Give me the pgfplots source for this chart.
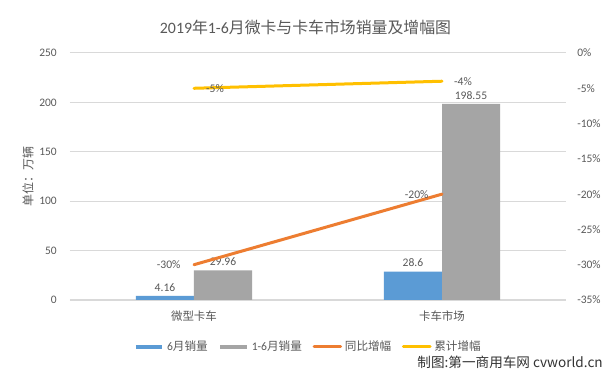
\documentclass[border=0pt]{standalone}
\usepackage{pgfplots}
\pgfplotsset{compat=1.18}
\usepackage{fontspec}
\setmainfont{Carlito}
\newfontfamily\cjk{Noto Sans CJK SC}
\definecolor{cblue}{HTML}{5B9BD5}
\definecolor{cgray}{HTML}{A5A5A5}
\definecolor{corange}{HTML}{ED7D31}
\definecolor{cyellow}{HTML}{FFC000}
\definecolor{ctext}{HTML}{595959}
\definecolor{cgrid}{HTML}{D9D9D9}
\begin{document}
\begin{tikzpicture}
\path[use as bounding box, fill=white] (0pt,0pt) rectangle (458.25pt,288pt);
\node[text=ctext, font=\fontsize{11.9}{14}\selectfont] at (229.1pt,267.75pt) {2019{\cjk 年}1-6{\cjk 月微卡与卡车市场销量及增幅图}};
\node[text=ctext, rotate=90, font=\cjk\fontsize{9}{11}\selectfont] at (21pt,155.25pt) {单位：万辆};
\node[text=black!80, font=\cjk\fontsize{10.2}{12}\selectfont, anchor=east, inner sep=0pt] at (452.25pt,16.5pt) {制图:第一商用车网 cvworld.cn};

\begin{axis}[at={(52.5pt,63pt)}, anchor=south west, scale only axis, width=372pt, height=185.25pt,
 xmin=-0.5, xmax=1.5, ymin=0, ymax=250,
 ytick={0,50,...,250}, xtick={0,1}, xticklabels={{\cjk 微型卡车},{\cjk 卡车市场}},
 axis x line*=bottom, axis y line*=left, y axis line style={draw=none}, x axis line style={cgrid, -},
 ymajorgrids, grid style={cgrid, line width=0.75pt},
 major tick length=0pt,
 tick label style={text=ctext, font=\fontsize{8.6}{10}\selectfont},
 yticklabel style={inner sep=0pt, xshift=-9.75pt},
 xticklabel style={inner sep=0pt, yshift=-8pt},
 /pgf/number format/assume math mode=true,
 ybar=0pt, bar width=43.5pt,
 nodes near coords, every node near coord/.append style={text=ctext, font=\fontsize{8.7}{10}\selectfont},
 clip=false]
\addplot[fill=cblue, draw=none] coordinates {(0,4.16) (1,28.6)};
\addplot[fill=cgray, draw=none] coordinates {(0,29.96) (1,198.55)};
\end{axis}

\begin{axis}[at={(52.5pt,63pt)}, anchor=south west, scale only axis, width=372pt, height=185.25pt,
 xmin=-0.5, xmax=1.5, ymin=-35, ymax=0, ytick={-35,-30,...,0},
 axis x line=none, axis y line*=right, y axis line style={draw=none},
 major tick length=0pt,
 /pgf/number format/assume math mode=true,
 yticklabel={\pgfmathprintnumber{\tick}\%},
 tick label style={text=ctext, font=\fontsize{8.6}{10}\selectfont},
 yticklabel style={inner sep=0pt, xshift=8.25pt, anchor=west},
 legend columns=4,
 legend style={draw=none, fill=none, at={(0.481,-0.190)}, anchor=center,
   font=\fontsize{8.7}{10}\selectfont, text=ctext,
   /tikz/every even column/.append style={column sep=6pt}},
 legend cell align=left,
 legend image code/.code={\draw[#1] (0pt,0pt) -- (20pt,0pt);},
 clip=false]
\addlegendimage{cblue, line width=3pt}
\addlegendentry{6{\cjk 月销量}}
\addlegendimage{cgray, line width=3pt}
\addlegendentry{1-6{\cjk 月销量}}
\addplot[corange, line width=2.25pt, line cap=round, point meta=y,
  nodes near coords={\pgfmathprintnumber{\pgfplotspointmeta}\%},
  every node near coord/.style={anchor=east, inner sep=0pt, xshift=-9pt, text=ctext, font=\fontsize{8.7}{10}\selectfont}]
  coordinates {(0,-30) (1,-20)};
\addlegendentry{{\cjk 同比增幅}}
\addplot[cyellow, line width=2.25pt, line cap=round, point meta=y,
  nodes near coords={\pgfmathprintnumber{\pgfplotspointmeta}\%},
  every node near coord/.style={anchor=west, inner sep=0pt, xshift=8pt, text=ctext, font=\fontsize{8.7}{10}\selectfont}]
  coordinates {(0,-5) (1,-4)};
\addlegendentry{{\cjk 累计增幅}}
\end{axis}
\end{tikzpicture}
\end{document}
